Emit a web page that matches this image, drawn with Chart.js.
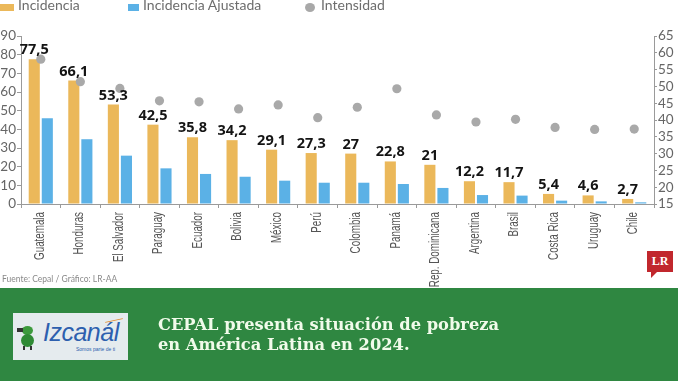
<!DOCTYPE html>
<html>
<head>
<meta charset="utf-8">
<script src="https://cdn.jsdelivr.net/npm/chart.js@4.4.1/dist/chart.umd.min.js"></script>
<style>
  html, body { margin:0; padding:0; background:#fff; }
  body { width:678px; height:381px; position:relative; overflow:hidden; font-family: Lato, "Open Sans", sans-serif; }
  #wrap { position:absolute; left:0; top:0; width:678px; height:290px; }
  .leg { position:absolute; top:-2px; font:14px Lato, sans-serif; color:#6d6d6d; line-height:14px; white-space:nowrap; }
  .box { position:absolute; height:7px; }
  #src { position:absolute; left:2px; top:274px; font:8.5px Lato, sans-serif; color:#8a8a8a; white-space:nowrap; }
  #lr { position:absolute; left:647px; top:251px; width:26px; height:21px; background:#c1272d; color:#fff;
        font:bold 12px "Liberation Serif", serif; text-align:center; line-height:21px; }
  #lrtail { position:absolute; left:651px; top:272px; width:0; height:0; border-left:0 solid transparent;
        border-right:6px solid transparent; border-top:6px solid #c1272d; }
  #banner { position:absolute; left:0; top:288px; width:678px; height:93px; background:#2f8741; }
  #logo { position:absolute; left:13px; top:313px; width:115px; height:47px; background:#e5ebee; }
  #logotxt { position:absolute; left:43px; top:318px; font:italic 25px "Liberation Sans", sans-serif; color:#2d5fae; white-space:nowrap; letter-spacing:-0.5px; }
  #logosub { position:absolute; left:76px; top:346px; font:5px "Liberation Sans", sans-serif; color:#2d5fae; white-space:nowrap; }
  #title { position:absolute; left:158px; top:315px; font:bold 16.3px "DejaVu Serif", serif; color:#f1fbea; line-height:19.5px; white-space:nowrap; }
</style>
</head>
<body>
<div id="wrap"><canvas id="c"></canvas></div>

<div class="box" style="left:0px;top:4px;width:14px;background:#ebb85a"></div>
<div class="leg" style="left:18px">Incidencia</div>
<div class="box" style="left:128px;top:4px;width:11px;background:#5bb1e6"></div>
<div class="leg" style="left:143px">Incidencia Ajustada</div>
<div class="box" style="left:305px;top:2.5px;width:10px;height:9px;border-radius:50%;background:#a8a8a8"></div>
<div class="leg" style="left:321px">Intensidad</div>

<div id="src">Fuente: Cepal / Gráfico: LR-AA</div>
<div id="lr">LR</div>
<div id="lrtail"></div>

<div id="banner"></div>
<div id="logo"></div>
<div style="position:absolute;left:22px;top:326px;width:11px;height:9px;border-radius:50%;background:#3c9a3c"></div>
<div style="position:absolute;left:21px;top:334px;width:13px;height:13px;border-radius:50%;background:#2f8a35"></div>
<div style="position:absolute;left:17px;top:328px;width:6px;height:4px;background:#333"></div>
<div style="position:absolute;left:23px;top:346px;width:2px;height:4px;background:#333"></div>
<div style="position:absolute;left:30px;top:346px;width:2px;height:4px;background:#333"></div>
<div id="logotxt">Izcanál</div>
<div id="logosub">Somos parte de ti</div>
<div style="position:absolute;left:105px;top:320px;width:18px;height:1px;background:#e08a2a;transform:rotate(-12deg)"></div>
<div id="title">CEPAL presenta situación de pobreza<br>en América Latina en 2024.</div>

<script>
const categories = ['Guatemala','Honduras','El Salvador','Paraguay','Ecuador','Bolivia','México','Perú','Colombia','Panamá','Rep. Dominicana','Argentina','Brasil','Costa Rica','Uruguay','Chile'];
const incidencia = [77.5, 66.1, 53.3, 42.5, 35.8, 34.2, 29.1, 27.3, 27, 22.8, 21, 12.2, 11.7, 5.4, 4.6, 2.7];
const incidenciaAjustada = [45.9, 34.7, 25.9, 19.1, 16.1, 14.6, 12.5, 11.4, 11.4, 10.7, 8.6, 4.8, 4.5, 1.8, 1.4, 0.9];
const intensidad = [58.1, 51.4, 49.4, 45.7, 45.4, 43.3, 44.5, 40.7, 43.8, 49.3, 41.5, 39.4, 40.2, 37.8, 37.2, 37.3];
const leftTicks = [0, 10, 20, 30, 40, 50, 60, 70, 80, 90];
const rightTicks = [15, 20, 25, 30, 35, 40, 45, 50, 55, 60, 65];

const CANVAS_H = 290;
const AXIS_COLOR = '#9a9a9a';
const TICK_COLOR = '#666';

const valueLabels = {
  id: 'valueLabels',
  afterDatasetsDraw(chart) {
    const ctx = chart.ctx;
    const meta = chart.getDatasetMeta(0);
    ctx.save();
    ctx.font = 'bold 14.5px "Open Sans", sans-serif';
    ctx.fillStyle = '#141414';
    ctx.textAlign = 'center';
    ctx.textBaseline = 'alphabetic';
    meta.data.forEach((bar, i) => {
      ctx.fillText(String(incidencia[i]).replace('.', ','), bar.x, bar.y - 5);
    });
    ctx.restore();
  }
};

// condensed, vertical category labels (reading bottom to top)
const condensedLabels = {
  id: 'condensedLabels',
  afterDraw(chart) {
    const ctx = chart.ctx;
    const xs = chart.scales.x;
    ctx.save();
    ctx.font = '14px "Liberation Sans", Arial, sans-serif';
    ctx.fillStyle = '#555';
    ctx.textAlign = 'right';
    ctx.textBaseline = 'middle';
    categories.forEach((c, i) => {
      const x = xs.getPixelForValue(i);
      ctx.save();
      ctx.translate(x - 1, xs.top + 8);
      ctx.rotate(-Math.PI / 2);
      ctx.scale(0.7, 1);
      ctx.fillText(c, 0, 0);
      ctx.restore();
    });
    ctx.restore();
  }
};

new Chart(document.getElementById('c'), {
  type: 'bar',
  data: {
    labels: categories,
    datasets: [
      { label: 'Incidencia', data: incidencia, backgroundColor: '#ebb85a', yAxisID: 'y', order: 2,
        barPercentage: 0.85, categoryPercentage: 0.66 },
      { label: 'Incidencia Ajustada', data: incidenciaAjustada, backgroundColor: '#5bb1e6', yAxisID: 'y', order: 2,
        barPercentage: 0.85, categoryPercentage: 0.66 },
      { type: 'line', label: 'Intensidad', data: intensidad, yAxisID: 'y2', order: 0, showLine: false,
        pointRadius: 4.6, pointHoverRadius: 4.6, pointBackgroundColor: '#a9a9a9', pointBorderWidth: 0,
        borderColor: 'rgba(0,0,0,0)' }
    ]
  },
  options: {
    responsive: true,
    maintainAspectRatio: false,
    animation: false,
    layout: { padding: { top: 36, left: 0, right: 0, bottom: 0 } },
    plugins: { legend: { display: false }, tooltip: { enabled: false } },
    scales: {
      x: {
        offset: true,
        grid: { display: true, drawOnChartArea: false, drawTicks: true, tickLength: 4, color: AXIS_COLOR, offset: true },
        border: { display: true, color: AXIS_COLOR, width: 1 },
        ticks: { display: false, autoSkip: false },
        afterFit(scale) { scale.height = CANVAS_H - 204; }
      },
      y: {
        position: 'left', min: 0, max: 90,
        afterBuildTicks(scale) { scale.ticks = leftTicks.map(v => ({ value: v })); },
        grid: { display: true, drawOnChartArea: false, drawTicks: true, tickLength: 4, color: AXIS_COLOR },
        border: { display: true, color: AXIS_COLOR, width: 1 },
        ticks: { autoSkip: false, padding: 1, font: { family: 'Lato, sans-serif', size: 13.5 }, color: TICK_COLOR },
        afterFit(scale) { scale.width = 21; }
      },
      y2: {
        position: 'right', min: 15, max: 65,
        afterBuildTicks(scale) { scale.ticks = rightTicks.map(v => ({ value: v })); },
        grid: { display: true, drawOnChartArea: false, drawTicks: true, tickLength: 3, color: AXIS_COLOR },
        border: { display: true, color: AXIS_COLOR, width: 1 },
        ticks: { autoSkip: false, padding: 1, font: { family: 'Lato, sans-serif', size: 13.5 }, color: TICK_COLOR },
        afterFit(scale) { scale.width = 24; }
      }
    }
  },
  plugins: [valueLabels, condensedLabels]
});
</script>
</body>
</html>
